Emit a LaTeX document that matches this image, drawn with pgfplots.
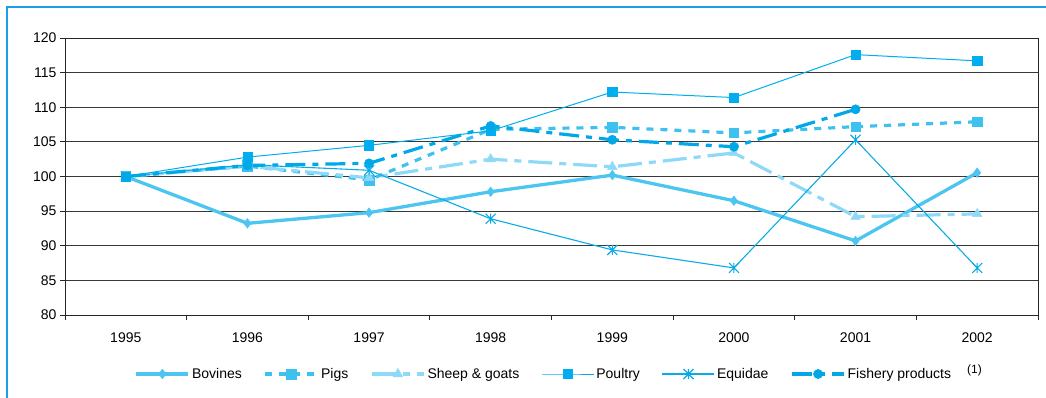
\documentclass[border=0pt]{standalone}
\usepackage{fontspec}
\setmainfont{Liberation Sans}
\usepackage{pgfplots}
\pgfplotsset{compat=1.18}
\definecolor{bovc}{HTML}{4CC6F0}
\definecolor{pigc}{HTML}{3EC1EE}
\definecolor{shpc}{HTML}{8ED9F7}
\definecolor{poulc}{HTML}{00AEEF}
\definecolor{equc}{HTML}{0AAAE8}
\definecolor{fishc}{HTML}{00A8E8}
\definecolor{framec}{HTML}{1BA1E2}
\definecolor{gridc}{HTML}{383838}
\pgfdeclareplotmark{xast}{%
 \pgfpathmoveto{\pgfqpoint{-\pgfplotmarksize}{-\pgfplotmarksize}}\pgfpathlineto{\pgfqpoint{\pgfplotmarksize}{\pgfplotmarksize}}%
 \pgfpathmoveto{\pgfqpoint{-\pgfplotmarksize}{\pgfplotmarksize}}\pgfpathlineto{\pgfqpoint{\pgfplotmarksize}{-\pgfplotmarksize}}%
 \pgfpathmoveto{\pgfqpoint{0pt}{-\pgfplotmarksize}}\pgfpathlineto{\pgfqpoint{0pt}{\pgfplotmarksize}}%
 \pgfusepathqstroke}
\begin{document}
\begin{tikzpicture}[font=\fontsize{14}{16.8}\selectfont]
\useasboundingbox (-65pt,-82pt) rectangle (981pt,315pt);
\draw[color=framec, line width=1.5pt] (-58pt,-95pt) -- (-58pt,308pt) -- (995pt,308pt);
\begin{axis}[
  at={(0,0)}, anchor=south west,
  scale only axis, width=973pt, height=277pt,
  xmin=-0.5, xmax=7.5, ymin=80, ymax=120,
  xtick={0,...,7}, xticklabels={1995,1996,1997,1998,1999,2000,2001,2002},
  minor xtick={-0.5,0.5,...,7.5},
  ytick={80,85,...,120},
  ymajorgrids,
  major grid style={color=gridc, line width=0.9pt},
  axis line style={color=black!85, line width=0.9pt},
  tick align=outside, tick pos=left,
  major x tick style={draw=none},
  minor x tick style={draw=black!85, line width=0.8pt},
  major y tick style={draw=black!85, line width=0.8pt},
  major tick length=5pt, minor tick length=5pt,
  /pgf/number format/assume math mode=true,
  tick label style={font=\fontsize{14}{16.8}\selectfont},
  xticklabel style={yshift=-9pt},
  legend style={at={(axis description cs:0.508,-0.213)}, anchor=center, draw=none,
    legend columns=-1, font=\fontsize{14}{16.8}\selectfont,
    /tikz/every even column/.append style={column sep=20pt}},
  legend image code/.code={\draw[mark repeat=2,mark phase=2,#1] plot coordinates {(0pt,0pt)(26pt,0pt)(52pt,0pt)};},
]
\addplot[color=bovc, line width=3.3pt, mark=diamond*, mark size=4.8pt, mark options={solid, line width=0.5pt}]
  coordinates {(0,100)(1,93.24)(2,94.78)(3,97.8)(4,100.2)(5,96.5)(6,90.7)(7,100.55)};
\addlegendentry{Bovines}
\addplot[color=pigc, line width=3.2pt, dash pattern=on 7pt off 7pt, mark=square*, mark size=4.8pt, mark options={solid, line width=0.5pt}]
  coordinates {(0,100)(1,101.5)(2,99.5)(3,106.8)(4,107.1)(5,106.3)(6,107.2)(7,107.9)};
\addlegendentry{Pigs}
\addplot[color=shpc, line width=3.2pt, dash pattern=on 24pt off 7pt on 7pt off 7pt, mark=triangle*, mark size=5.5pt, mark options={solid, line width=0.5pt}]
  coordinates {(0,100)(1,101.5)(2,99.8)(3,102.5)(4,101.4)(5,103.4)(6,94.2)(7,94.6)};
\addlegendentry{Sheep \& goats}
\addplot[color=poulc, line width=1pt, mark=square*, mark size=4.6pt, mark options={solid, line width=0.5pt}]
  coordinates {(0,100)(1,102.8)(2,104.5)(3,106.6)(4,112.2)(5,111.4)(6,117.6)(7,116.7)};
\addlegendentry{Poultry}
\addplot[color=equc, line width=1.1pt, mark=xast, mark size=5pt, mark options={solid, line width=1.1pt}]
  coordinates {(0,100)(1,101.7)(2,100.9)(3,93.9)(4,89.4)(5,86.8)(6,105.3)(7,86.8)};
\addlegendentry{Equidae}
\addplot[color=fishc, line width=3.2pt, dash pattern=on 20pt off 7pt on 6pt off 7pt, mark=*, mark size=4.6pt, mark options={solid, line width=0.5pt}]
  coordinates {(0,100)(1,101.6)(2,101.9)(3,107.3)(4,105.3)(5,104.3)(6,109.7)};
\addlegendentry{Fishery products\hspace{16pt}\smash{\raisebox{5pt}{\fontsize{12}{13}\selectfont(1)}}}
\end{axis}
\end{tikzpicture}
\end{document}
